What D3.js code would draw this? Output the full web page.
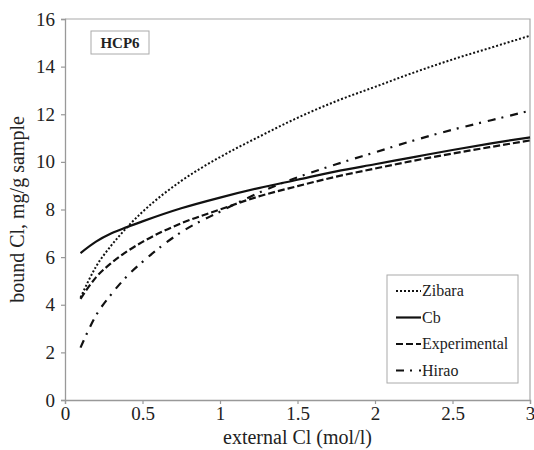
<!DOCTYPE html>
<html>
<head>
<meta charset="utf-8">
<script src="https://cdn.jsdelivr.net/npm/d3@7"></script>
<style>
  body { margin: 0; background: #fff; }
  svg text { font-family: "Liberation Serif", "DejaVu Serif", "Times New Roman", serif; fill: #222; }
</style>
</head>
<body>
<script>
// values
const xs = [0.1, 0.2, 0.3, 0.4, 0.5, 0.75, 1, 1.25, 1.5, 1.75, 2, 2.25, 2.5, 2.75, 3];
const zibara = [4.3, 5.6, 6.5, 7.25, 7.9, 9.2, 10.2, 11.05, 11.85, 12.55, 13.15, 13.75, 14.3, 14.8, 15.3];
const cb = [6.17, 6.65, 7.0, 7.26, 7.5, 8.05, 8.5, 8.9, 9.25, 9.6, 9.9, 10.2, 10.5, 10.78, 11.03];
const experimental = [4.25, 5.15, 5.76, 6.24, 6.64, 7.42, 8.0, 8.55, 8.98, 9.38, 9.72, 10.05, 10.35, 10.63, 10.9];
const hirao = [2.2, 3.55, 4.45, 5.2, 5.8, 7.05, 7.91, 8.7, 9.35, 9.9, 10.4, 10.9, 11.35, 11.75, 12.15];
const xTicks = [0, 0.5, 1, 1.5, 2, 2.5, 3];
const yTicks = [0, 2, 4, 6, 8, 10, 12, 14, 16];

const series = [
  {name: "Zibara", values: zibara, dash: "2,2", width: 2},
  {name: "Cb", values: cb, dash: null, width: 2.2},
  {name: "Experimental", values: experimental, dash: "7,3", width: 2.2},
  {name: "Hirao", values: hirao, dash: "8,6,2,7", width: 2.2}
];

const W = 534, H = 450;
const margin = {top: 19, right: 4, bottom: 50, left: 65};
const serif = '"Liberation Serif", "DejaVu Serif", serif';

const svg = d3.select("body").append("svg")
  .attr("width", W).attr("height", H);

const x = d3.scaleLinear().domain([0, 3]).range([margin.left, W - margin.right]);
const y = d3.scaleLinear().domain([0, 16]).range([H - margin.bottom, margin.top]);

// plot frame (top + right)
svg.append("path")
  .attr("d", `M${x(0)},${y(16)}H${x(3)}V${y(0)}`)
  .attr("fill", "none").attr("stroke", "#aaa").attr("stroke-width", 1.2);

// axes
const xAxis = svg.append("g")
  .attr("transform", `translate(0,${y(0)})`)
  .call(d3.axisBottom(x).tickValues(xTicks).tickSize(4).tickPadding(3)
    .tickFormat(d => d));
const yAxis = svg.append("g")
  .attr("transform", `translate(${x(0)},0)`)
  .call(d3.axisLeft(y).tickValues(yTicks).tickSize(4).tickPadding(6));

[xAxis, yAxis].forEach(a => {
  a.attr("font-family", serif).attr("font-size", 19);
  a.select(".domain").attr("stroke", "#999").attr("stroke-width", 1.3);
  a.selectAll(".tick line").attr("stroke", "#999").attr("stroke-width", 1.2);
  a.selectAll(".tick text").attr("fill", "#222");
});

// axis titles
svg.append("text")
  .attr("x", (x(0) + x(3)) / 2).attr("y", 444)
  .attr("text-anchor", "middle").attr("font-size", 20)
  .text("external Cl (mol/l)");
svg.append("text")
  .attr("transform", `translate(24,${(y(0) + y(16)) / 2}) rotate(-90)`)
  .attr("text-anchor", "middle").attr("font-size", 20)
  .text("bound Cl, mg/g sample");

// curves
const line = d3.line()
  .x((d, i) => x(xs[i]))
  .y(d => y(d))
  .curve(d3.curveMonotoneX);

series.forEach(s => {
  svg.append("path")
    .datum(s.values)
    .attr("d", line)
    .attr("fill", "none")
    .attr("stroke", "#111")
    .attr("stroke-width", s.width)
    .attr("stroke-dasharray", s.dash);
});

// HCP6 label box
svg.append("rect")
  .attr("x", 91).attr("y", 31).attr("width", 58).attr("height", 23)
  .attr("fill", "#fff").attr("stroke", "#aaa");
svg.append("text")
  .attr("x", 120).attr("y", 48)
  .attr("text-anchor", "middle")
  .attr("font-size", 15).attr("font-weight", "bold")
  .text("HCP6");

// legend
const legend = svg.append("g");
legend.append("rect")
  .attr("x", 387).attr("y", 275).attr("width", 131).attr("height", 108)
  .attr("fill", "#fff").attr("stroke", "#aaa");

series.forEach((s, i) => {
  const ly = 291 + i * 26.5;
  legend.append("line")
    .attr("x1", 396).attr("x2", 421).attr("y1", ly).attr("y2", ly)
    .attr("stroke", "#111")
    .attr("stroke-width", s.width)
    .attr("stroke-dasharray", s.dash);
  legend.append("text")
    .attr("x", 422).attr("y", ly + 5)
    .attr("font-size", 16)
    .text(s.name);
});
</script>
</body>
</html>
